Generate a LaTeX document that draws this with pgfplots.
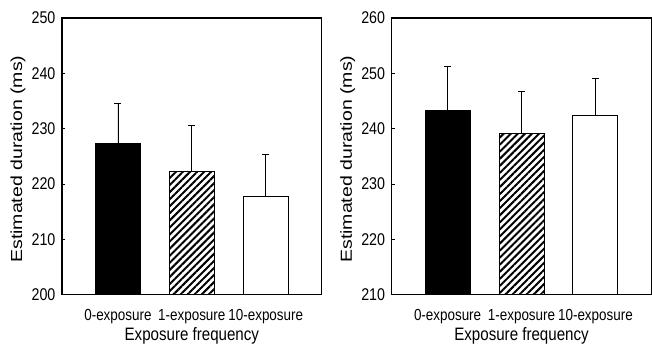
\documentclass[border=0pt]{standalone}
\usepackage{pgfplots}
\pgfplotsset{compat=1.18}
\usepackage{fontspec}
\setmainfont{Liberation Sans}[FakeStretch=0.84]
\newfontfamily\ylabfont{Liberation Sans}[FakeStretch=1.22]
\usetikzlibrary{patterns.meta}
\begin{document}
\begin{tikzpicture}
\pgfplotsset{
  mybar/.style={
    scale only axis, width=260pt, height=277pt,
    xmin=-0.757, xmax=2.757,
    xtick={0,1,2}, xticklabels={0-exposure,1-exposure,10-exposure},
    xtick style={draw=none},
    ytick pos=left, major tick length=3pt,
    tick style={black, line width=0.8pt},
    axis line style={line width=1.2pt},
    /pgf/number format/assume math mode=true,
    yticklabel style={font=\fontsize{17}{18}\selectfont, xshift=-3pt},
    xticklabel style={font=\fontsize{16}{17}\selectfont, anchor=base, yshift=-23pt},
    xlabel={Exposure frequency},
    xlabel style={font=\fontsize{18}{20}\selectfont, at={(axis description cs:0.5,0)}, anchor=base, yshift=-46pt},
    ylabel={Estimated duration (ms)},
    ylabel style={font=\fontsize{16}{18}\ylabfont, at={(axis description cs:-0.169,0.49)}, anchor=center},
    ybar, bar width=45pt, bar shift=0pt,
    error bars/y dir=plus, error bars/y explicit,
    error bars/error bar style={black, line width=0.8pt},
    error bars/error mark options={rotate=90, mark size=3.5pt, line width=0.8pt},
    every axis plot/.append style={draw=black, line width=1pt},
  }
}
\begin{axis}[mybar, ymin=200, ymax=250, ytick={200,210,...,250}]
\addplot[fill=black] coordinates {(0,227.4) +- (0,7.1)};
\addplot[pattern={Lines[angle=45,distance=5pt,line width=2pt]}, pattern color=black] coordinates {(1,222.3) +- (0,8.3)};
\addplot[fill=white] coordinates {(2,217.7) +- (0,7.7)};
\end{axis}
\begin{axis}[mybar, at={(330pt,0pt)}, ymin=210, ymax=260, ytick={210,220,...,260}]
\addplot[fill=black] coordinates {(0,243.2) +- (0,8.0)};
\addplot[pattern={Lines[angle=45,distance=5pt,line width=2pt]}, pattern color=black] coordinates {(1,239.1) +- (0,7.7)};
\addplot[fill=white] coordinates {(2,242.3) +- (0,6.8)};
\end{axis}
\useasboundingbox (-62pt,-52pt) rectangle (590pt,295pt);
\end{tikzpicture}
\end{document}
